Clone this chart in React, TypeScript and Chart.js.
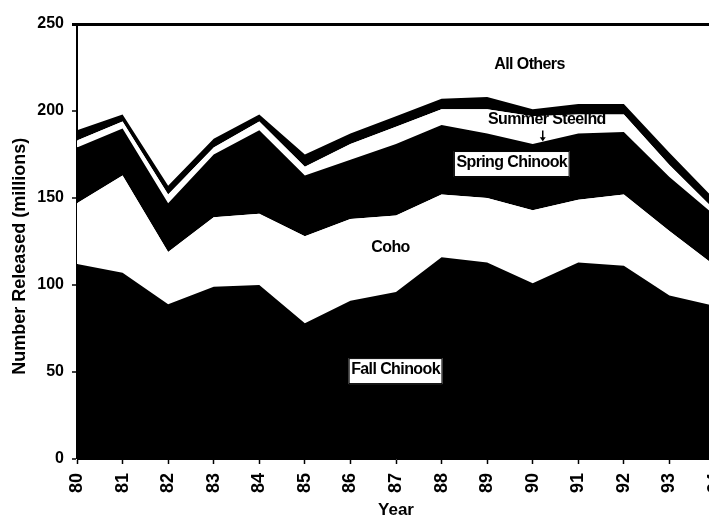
import React, { useEffect, useRef } from "react";
import { Chart, registerables } from "chart.js";

Chart.register(...registerables);

const YEARS = ["80", "81", "82", "83", "84", "85", "86", "87", "88", "89", "90", "91", "92", "93", "94"];
const FALL_CHINOOK = [112, 107, 89, 99, 100, 78, 91, 96, 116, 113, 101, 113, 111, 94, 88];
const COHO = [35, 56, 30, 40, 41, 50, 47, 44, 36, 37, 42, 36, 41, 37, 23];
const SPRING_CHINOOK = [32, 27, 28, 36, 48, 35, 34, 41, 40, 37, 38, 38, 36, 31, 29];
const SUMMER_STEELHEAD = [4, 4, 5, 4, 5, 5, 9, 10, 9, 14, 16, 11, 10, 7, 3];
const ALL_OTHERS = [6, 4, 5, 5, 4, 7, 6, 6, 6, 7, 4, 6, 6, 7, 6];
const Y_MIN = 0;
const Y_MAX = 250;
const Y_STEP = 50;

const FONT = '"Liberation Sans", Arial, Helvetica, sans-serif';

// label placements: x as category index, y as data value
const LABELS = [
  { text: "All Others", xi: 9.93, yv: 226.4, boxed: false },
  { text: "Summer Steelhd", xi: 10.31, yv: 194.8, boxed: false },
  { text: "Spring Chinook", xi: 9.54, yv: 170.1, boxed: true },
  { text: "Coho", xi: 6.88, yv: 121.3, boxed: false },
  { text: "Fall Chinook", xi: 6.99, yv: 51.1, boxed: true },
];

const labelPlugin = {
  id: "speciesLabels",
  afterDatasetsDraw(chart: any) {
    const { ctx, scales } = chart;
    const x = scales.x;
    const y = scales.y;
    ctx.save();
    ctx.font = `bold 16px ${FONT}`;
    (ctx as any).letterSpacing = "-0.6px";
    ctx.textAlign = "center";
    ctx.textBaseline = "middle";
    for (const l of LABELS) {
      const px = x.getPixelForValue(l.xi);
      const py = y.getPixelForValue(l.yv);
      if (l.boxed) {
        const w = ctx.measureText(l.text).width + 5;
        ctx.fillStyle = "#fff";
        ctx.fillRect(px - w / 2, py - 12, w, 26);
        ctx.strokeStyle = "#000";
        ctx.lineWidth = 1;
        ctx.strokeRect(px - w / 2 + 0.5, py - 11.5, w - 1, 25);
      }
      ctx.fillStyle = "#000";
      ctx.fillText(l.text, px, py);
    }
    // small arrow under Summer Steelhd
    const ax = x.getPixelForValue(10.22);
    const ay1 = y.getPixelForValue(188.8);
    const ay2 = y.getPixelForValue(183.2);
    ctx.strokeStyle = "#000";
    ctx.lineWidth = 1.5;
    ctx.beginPath();
    ctx.moveTo(ax, ay1);
    ctx.lineTo(ax, ay2);
    ctx.stroke();
    ctx.beginPath();
    ctx.moveTo(ax - 3, ay2 - 3);
    ctx.lineTo(ax + 3, ay2 - 3);
    ctx.lineTo(ax, ay2 + 1);
    ctx.closePath();
    ctx.fillStyle = "#000";
    ctx.fill();

    // y axis title
    const ty = y.getPixelForValue(116.5);
    ctx.translate(20, ty);
    ctx.rotate(-Math.PI / 2);
    ctx.font = `bold 18px ${FONT}`;
    (ctx as any).letterSpacing = "0px";
    ctx.fillText("Number Released (millions)", 0, 0);
    ctx.restore();
  },
};

export default function App() {
  const canvasRef = useRef<HTMLCanvasElement | null>(null);

  useEffect(() => {
    if (!canvasRef.current) return;
    const mk = (label: string, data: number[], color: string, fill: any) => ({
      label,
      data,
      backgroundColor: color,
      borderColor: "rgba(0,0,0,0)",
      borderWidth: 0,
      pointRadius: 0,
      tension: 0,
      fill,
    });
    const chart = new Chart(canvasRef.current, {
      type: "line",
      data: {
        labels: YEARS,
        datasets: [
          mk("Fall Chinook", FALL_CHINOOK, "#000", "origin"),
          mk("Coho", COHO, "#fff", "-1"),
          mk("Spring Chinook", SPRING_CHINOOK, "#000", "-1"),
          mk("Summer Steelhd", SUMMER_STEELHEAD, "#fff", "-1"),
          mk("All Others", ALL_OTHERS, "#000", "-1"),
        ],
      },
      options: {
        animation: false,
        responsive: false,
        maintainAspectRatio: false,
        devicePixelRatio: 1,
        layout: { padding: { top: 24, right: 15, bottom: 0, left: 0 } },
        plugins: {
          legend: { display: false },
          tooltip: { enabled: false },
        },
        elements: { line: { borderWidth: 0 } },
        scales: {
          x: {
            type: "category",
            offset: false,
            afterFit: (s: any) => {
              s.height = 60;
              s.paddingRight = 0;
              s.paddingLeft = 0;
            },
            border: { display: true, color: "#000", width: 1 },
            grid: {
              display: true,
              drawOnChartArea: false,
              drawTicks: true,
              tickLength: 5,
              tickColor: "#000",
              tickWidth: 1.5,
              color: "#000",
            },
            ticks: {
              color: "#000",
              font: { family: FONT, size: 18, weight: "bold" },
              minRotation: 90,
              maxRotation: 90,
              padding: 9,
              autoSkip: false,
            },
            title: {
              display: true,
              text: "Year",
              color: "#000",
              font: { family: FONT, size: 17, weight: "bold", lineHeight: 1 },
              padding: { top: 0, bottom: 0 },
            },
          },
          y: {
            stacked: true,
            min: Y_MIN,
            max: Y_MAX,
            afterFit: (s: any) => {
              s.width = 77;
            },
            border: { display: true, color: "#000", width: 2 },
            grid: {
              display: true,
              drawOnChartArea: true,
              drawTicks: true,
              tickLength: 5,
              color: "#000",
              lineWidth: (c: any) => (c.tick && c.tick.value === Y_MAX ? 3 : 0),
              tickWidth: (c: any) => (c.tick && c.tick.value === Y_MAX ? 3 : 1.5),
              tickColor: "#000",
            },
            ticks: {
              stepSize: Y_STEP,
              color: "#000",
              font: { family: FONT, size: 16, weight: "bold" },
              padding: 8,
            },
          },
        },
      },
      plugins: [labelPlugin],
    });
    return () => chart.destroy();
  }, []);

  return (
    <div
      style={{
        position: "fixed",
        left: 0,
        top: 0,
        width: 709,
        height: 519,
        overflow: "hidden",
        background: "#fff",
      }}
    >
      <canvas ref={canvasRef} width={730} height={519} style={{ display: "block" }} />
    </div>
  );
}
